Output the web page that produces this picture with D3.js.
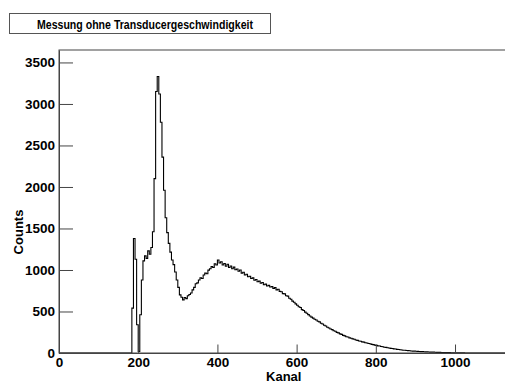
<!DOCTYPE html>
<html>
<head>
<meta charset="utf-8">
<script src="https://cdn.jsdelivr.net/npm/d3@7"></script>
<style>
  html, body { margin: 0; padding: 0; background: #fff; }
  svg { display: block; }
  text { font-family: "Liberation Sans", Arial, Helvetica, sans-serif; font-weight: bold; fill: #000; }
</style>
</head>
<body>
<svg id="chart" width="505" height="383"></svg>
<script>
// Spectrum: counts per channel, sampled every 4 channels starting at channel 180
const titleText = "Messung ohne Transducergeschwindigkeit";
const xTitle = "Kanal";
const yTitle = "Counts";
const firstChannel = 180;
const channelStep = 4;
const counts = [
  0, 540, 1380, 1130, 340, 20, 460, 880, 1110, 1170,
  1140, 1230, 1190, 1270, 1460, 2100, 3150, 3330, 3120, 2780,
  2360, 1960, 1630, 1450, 1320, 1215, 1120, 1065, 975, 880,
  790, 700, 672, 640, 668, 655, 690, 705, 722, 760,
  790, 835, 845, 880, 905, 898, 940, 962, 955, 998,
  1015, 1040, 1030, 1075, 1060, 1120, 1085, 1100, 1060, 1078,
  1045, 1070, 1030, 1048, 1015, 1035, 1002, 1012, 985, 1000,
  962, 972, 940, 948, 918, 925, 898, 905, 876, 885,
  858, 866, 840, 850, 822, 830, 808, 815, 795, 800,
  778, 788, 760, 768, 742, 738, 715, 712, 690, 685,
  660, 648, 625, 612, 592, 575, 558, 548, 522, 512,
  492, 478, 462, 446, 432, 420, 406, 398, 382, 375,
  358, 350, 335, 326, 310, 302, 290, 282, 268, 262,
  249, 242, 230, 224, 212, 206, 196, 192, 182, 178,
  170, 165, 156, 152, 145, 141, 134, 131, 124, 121,
  114, 111, 104, 101, 95, 92, 86, 84, 78, 75,
  70, 68, 63, 61, 56, 54, 50, 48, 44, 42,
  39, 37, 34, 33, 30, 29, 27, 25, 23, 22,
  21, 19, 18, 17, 16, 15, 14, 13, 12, 11,
  11, 10, 9, 8, 8, 7, 6, 6, 5, 5,
  4, 4, 3, 3, 3, 2, 2, 2, 1, 1,
  1, 0, 0
];
const xDomain = [0, 1130];
const yDomain = [0, 3650];
const xMajorTicks = [0, 200, 400, 600, 800, 1000];
const xMinorTicks = d3.range(0, 1101, 50);
const yMajorTicks = [0, 500, 1000, 1500, 2000, 2500, 3000, 3500];
const yMinorTicks = d3.range(0, 3601, 100);

const svg = d3.select("#chart");
const frame = { left: 59, right: 506.5, top: 50, bottom: 353 };

const x = d3.scaleLinear().domain(xDomain).range([frame.left, frame.right]);
const y = d3.scaleLinear().domain(yDomain).range([frame.bottom, frame.top]);

// Histogram as step line: empty channels before the first sample and after the last
const points = [[xDomain[0], 0]];
counts.forEach((c, i) => points.push([firstChannel + i * channelStep, c]));
points.push([xDomain[1], 0]);

svg.append("path")
  .datum(points)
  .attr("fill", "none")
  .attr("stroke", "#000")
  .attr("stroke-width", 1.1)
  .attr("d", d3.line().x(d => x(d[0])).y(d => y(d[1])).curve(d3.curveStepAfter));

// Frame
svg.append("rect")
  .attr("x", frame.left).attr("y", frame.top)
  .attr("width", frame.right - frame.left).attr("height", frame.bottom - frame.top)
  .attr("fill", "none").attr("stroke", "#444").attr("stroke-width", 1);

// Axes with ticks pointing into the frame
const fontSize = 13.5;
const gx = svg.append("g").attr("transform", `translate(0,${frame.bottom})`);
gx.call(d3.axisBottom(x).tickValues(xMinorTicks).tickSizeInner(-4.5).tickSizeOuter(0).tickFormat(""));
gx.call(d3.axisBottom(x).tickValues(xMajorTicks).tickSizeInner(-8.5).tickSizeOuter(0).tickPadding(4).tickFormat(d3.format("d")));

const gy = svg.append("g").attr("transform", `translate(${frame.left},0)`);
gy.call(d3.axisLeft(y).tickValues(yMinorTicks).tickSizeInner(-7).tickSizeOuter(0).tickFormat(""));
gy.call(d3.axisLeft(y).tickValues(yMajorTicks).tickSizeInner(-14).tickSizeOuter(0).tickPadding(4).tickFormat(d3.format("d")));

svg.selectAll(".domain").attr("stroke", "#444");
svg.selectAll(".tick line").attr("stroke", "#444");
svg.selectAll(".tick text")
  .style("font-family", '"Liberation Sans", Arial, sans-serif')
  .style("font-weight", "bold")
  .style("font-size", fontSize + "px")
  .attr("fill", "#000");

// Axis titles
svg.append("text")
  .attr("x", (frame.left + frame.right) / 2 + 1)
  .attr("y", 381)
  .attr("text-anchor", "middle")
  .style("font-size", "13px")
  .text(xTitle);

svg.append("text")
  .attr("transform", `translate(23,232) rotate(-90)`)
  .attr("text-anchor", "middle")
  .style("font-size", "13px")
  .text(yTitle);

// Title box
svg.append("rect")
  .attr("x", 9.5).attr("y", 13.5)
  .attr("width", 261).attr("height", 20)
  .attr("fill", "#fff").attr("stroke", "#555").attr("stroke-width", 1);
svg.append("text")
  .attr("x", 37).attr("y", 28.5)
  .attr("textLength", 216)
  .attr("lengthAdjust", "spacingAndGlyphs")
  .style("font-size", "13px")
  .text(titleText);
</script>
</body>
</html>
